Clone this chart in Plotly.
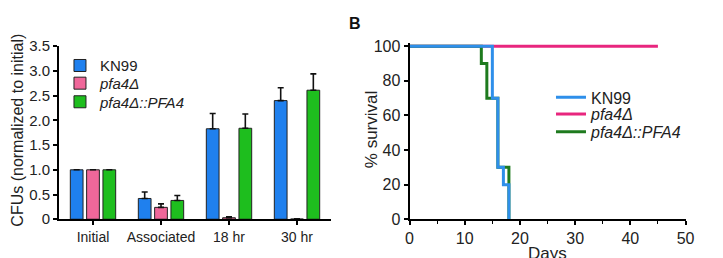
import plotly.graph_objects as go

W, H = 723, 258

# ---- Panel A data ----
categories = ["Initial", "Associated", "18 hr", "30 hr"]
kn99_cfu = [1.0, 0.42, 1.83, 2.40]
kn99_err = [0.0, 0.13, 0.31, 0.26]
pfa4_cfu = [1.0, 0.24, 0.03, 0.005]
pfa4_err = [0.0, 0.07, 0.02, 0.005]
comp_cfu = [1.0, 0.38, 1.84, 2.61]
comp_err = [0.0, 0.10, 0.29, 0.33]
a_yticks = [0, 0.5, 1.0, 1.5, 2.0, 2.5, 3.0, 3.5]
a_yticktext = ["0", "0.5", "1.0", "1.5", "2.0", "2.5", "3.0", "3.5"]

# ---- Panel B data (Kaplan-Meier steps) ----
kn99_days = [0, 15, 15, 16, 16, 17, 17, 18, 18]
kn99_surv = [100, 100, 70, 70, 30, 30, 20, 20, 0]
pfa4_days = [0, 45]
pfa4_surv = [100, 100]
comp_days = [0, 13, 13, 14, 14, 16, 16, 18, 18]
comp_surv = [100, 100, 90, 90, 70, 70, 30, 30, 0]
b_xticks = [0, 10, 20, 30, 40, 50]
b_yticks = [0, 20, 40, 60, 80, 100]

names = ["KN99", "<i>pfa4Δ</i>", "<i>pfa4Δ::PFA4</i>"]
bar_colors = ["#1F80EE", "#F0679A", "#1EBE1E"]
line_colors = ["#2E8FEA", "#E8267E", "#1E7A1E"]

FONT = "Arial, Liberation Sans, sans-serif"


def fx(px):
    return px / W


def fy(py):
    return (H - py) / H


fig = go.Figure()

bar_legends = ["legend", "legend2", "legend3"]
for vals, errs, nm, col, lg in zip([kn99_cfu, pfa4_cfu, comp_cfu],
                                   [kn99_err, pfa4_err, comp_err], names,
                                   bar_colors, bar_legends):
    fig.add_trace(go.Bar(
        x=categories, y=vals, name=nm, xaxis="x", yaxis="y",
        marker=dict(color=col, line=dict(color="#222222", width=1)),
        error_y=dict(type="data", array=errs, arrayminus=[0] * len(errs),
                     symmetric=False, color="#111111", thickness=1.6, width=3),
        legend=lg,
    ))

line_specs = [
    (pfa4_days, pfa4_surv, names[1], line_colors[1], "legend5"),
    (comp_days, comp_surv, names[2], line_colors[2], "legend6"),
    (kn99_days, kn99_surv, names[0], line_colors[0], "legend4"),
]
for d, s, nm, col, lg in line_specs:
    fig.add_trace(go.Scatter(
        x=d, y=s, mode="lines", name=nm, xaxis="x2", yaxis="y2",
        line=dict(color=col, width=3), legend=lg,
    ))

ax_line = dict(showline=True, linecolor="black", linewidth=2, showgrid=False,
               zeroline=False, ticks="outside", tickcolor="black", ticklen=4,
               tickwidth=1.5)


def leg(x, y, size):
    return dict(x=fx(x), y=fy(y), xanchor="left", yanchor="middle",
                bgcolor="rgba(0,0,0,0)", borderwidth=0,
                font=dict(family=FONT, size=size, color="#222"), itemwidth=30)


fig.update_layout(
    width=W, height=H, margin=dict(l=0, r=0, t=0, b=0),
    paper_bgcolor="white", plot_bgcolor="white",
    font=dict(family=FONT, color="#222"),
    barmode="group", bargap=0.28, bargroupgap=0.22,
    showlegend=True,
    xaxis=dict(domain=[fx(56), fx(333)], anchor="y", range=[-0.5, 3.5],
               tickfont=dict(family=FONT, size=14, color="#222"), **ax_line),
    yaxis=dict(domain=[fy(226), fy(40)], anchor="x", range=[0, 3.5],
               tickvals=a_yticks, ticktext=a_yticktext,
               tickfont=dict(family=FONT, size=15, color="#222"), **ax_line),
    xaxis2=dict(domain=[fx(413), fx(694)], anchor="y2", range=[0, 50],
                tickvals=b_xticks,
                minor=dict(dtick=5, ticks="outside", ticklen=3,
                           tickcolor="black", tickwidth=1.2),
                tickfont=dict(family=FONT, size=16, color="#222"), **ax_line),
    yaxis2=dict(domain=[fy(226), fy(36.3)], anchor="x2", range=[0, 102],
                tickvals=b_yticks,
                tickfont=dict(family=FONT, size=16, color="#222"), **ax_line),
    legend=leg(57, 61, 15),
    legend2=leg(57, 80, 15),
    legend3=leg(57, 100, 15),
    legend4=leg(557, 95, 16),
    legend5=leg(557, 113, 16),
    legend6=leg(557, 132, 16),
)

fig.add_annotation(text="CFUs (normalized to initial)", textangle=-90,
                   x=fx(14), y=fy(130), xref="paper", yref="paper",
                   xanchor="center", yanchor="middle",
                   showarrow=False, font=dict(family=FONT, size=16, color="#222"))
fig.add_annotation(text="% survival", textangle=-90,
                   x=fx(375), y=fy(130), xref="paper", yref="paper",
                   xanchor="center", yanchor="middle",
                   showarrow=False, font=dict(family=FONT, size=17, color="#222"))
fig.add_annotation(text="Days", x=fx(553), y=fy(250), xref="paper", yref="paper",
                   xanchor="center", yanchor="top", showarrow=False,
                   font=dict(family=FONT, size=17, color="#222"))
fig.add_annotation(text="<b>B</b>", x=fx(349), y=fy(4), xref="paper", yref="paper",
                   xanchor="left", yanchor="top", showarrow=False,
                   font=dict(family=FONT, size=16, color="#111"))

fig.write_html("out.html")
